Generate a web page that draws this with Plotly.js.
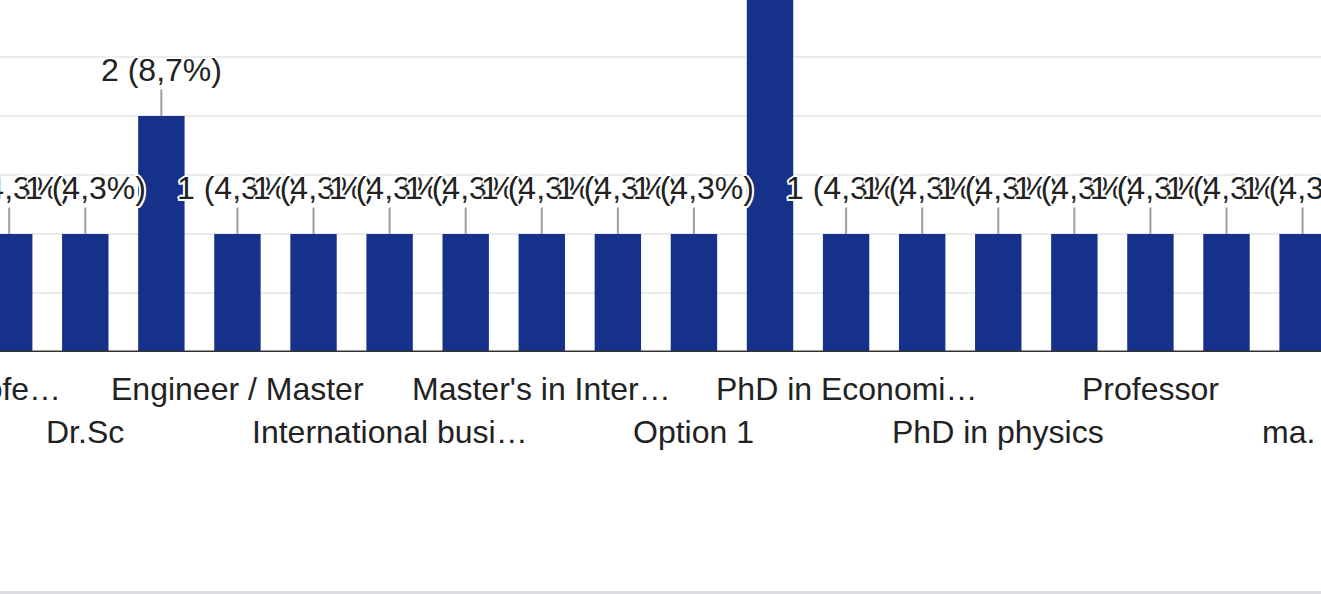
<!DOCTYPE html>
<html>
<head>
<meta charset="utf-8">
<script src="https://cdn.plot.ly/plotly-3.0.1.min.js"></script>
<style>
  html, body { margin: 0; padding: 0; background: #fff; overflow: hidden; width: 1321px; height: 594px; }
  #wrap { position: relative; width: 1321px; height: 594px; overflow: hidden; }
  #chart { position: absolute; left: -160px; top: 0; width: 1481px; height: 591px; }
  #rule { position: absolute; left: 0; top: 591px; width: 1321px; height: 3px; background: #dadce0; }
</style>
</head>
<body>
<div id="wrap">
  <div id="chart"></div>
  <div id="rule"></div>
</div>
<script>
// ---- data ----
var categories = [
  "Associate Professor", "Doctor of Science", "Dr.Sc", "Engineer", "Engineer / Master",
  "Full Professor", "International business", "Master", "Master's in International Relations",
  "Master's in Management", "Option 1", "PhD", "PhD in Economics", "PhD in Mathematics",
  "PhD in physics", "PhD student", "Professor", "Researcher", "ma."
];
var counts = [1, 1, 1, 2, 1, 1, 1, 1, 1, 1, 1, 4, 1, 1, 1, 1, 1, 1, 1];
var tickLabels = [
  "Associate Profe…", "", "Dr.Sc", "", "Engineer / Master",
  "", "International busi…", "", "Master's in Inter…",
  "", "Option 1", "", "PhD in Economi…", "",
  "PhD in physics", "", "Professor", "", "ma."
];
var totalResponses = 23;

// ---- styling ----
var FONT = "Liberation Sans, Arial, sans-serif";
var TXT = "#222222";
var BAR = "#153189";
var halo = "2px 0 0 #fff, -2px 0 0 #fff, 0 2px 0 #fff, 0 -2px 0 #fff, " +
           "1.5px 1.5px 0 #fff, -1.5px -1.5px 0 #fff, 1.5px -1.5px 0 #fff, -1.5px 1.5px 0 #fff";

function pctText(v) {
  var p = (v / totalResponses * 100).toFixed(1).replace(/\.0$/, "").replace(".", ",");
  return v + " (" + p + "%)";
}

var annotations = [];
// value labels with leader lines
categories.forEach(function (c, i) {
  annotations.push({
    x: c, y: counts[i], xref: "x", yref: "y",
    text: pctText(counts[i]),
    showarrow: true, arrowhead: 0, arrowwidth: 2, arrowcolor: "#9e9e9e",
    ax: 0, ay: -46, standoff: 0, startstandoff: 0,
    font: { family: FONT, size: 32, color: TXT, shadow: halo }
  });
});
// staggered category labels (the last one is kept inside the chart's right edge)
var row = 0;
var lastIdx = categories.length - 1;
categories.forEach(function (c, i) {
  if (!tickLabels[i]) return;
  var isLast = (i === lastIdx);
  annotations.push({
    x: c, y: 0, xref: "x", yref: "paper",
    text: tickLabels[i], showarrow: false,
    xanchor: isLast ? "right" : "center", yanchor: "middle",
    xshift: isLast ? 14 : 0,
    yshift: (row % 2 === 0) ? -37 : -80,
    font: { family: FONT, size: 32, color: TXT }
  });
  row++;
});

var trace = {
  type: "bar",
  x: categories,
  y: counts,
  marker: { color: BAR, line: { width: 0 } },
  hoverinfo: "skip"
};

var layout = {
  width: 1481, height: 591,
  margin: { l: 0, r: 0, t: 0, b: 239, pad: 0 },
  paper_bgcolor: "#ffffff", plot_bgcolor: "#ffffff",
  bargap: 0.39,
  showlegend: false,
  xaxis: {
    type: "category", range: [-1.224, 18.242],
    showticklabels: false, ticks: "", showgrid: false, zeroline: false, showline: false,
    fixedrange: true
  },
  yaxis: {
    range: [0, 352 / 118], dtick: 0.5, tick0: 0,
    showgrid: true, gridcolor: "#ebebeb", gridwidth: 2,
    showticklabels: false, ticks: "", zeroline: false, showline: false,
    fixedrange: true
  },
  shapes: [{
    type: "line", xref: "paper", yref: "y", x0: 0, x1: 1, y0: 0, y1: 0,
    line: { color: "#333333", width: 3 }, layer: "above"
  }],
  annotations: annotations
};

Plotly.newPlot("chart", [trace], layout, { staticPlot: true, displayModeBar: false });
</script>
</body>
</html>
